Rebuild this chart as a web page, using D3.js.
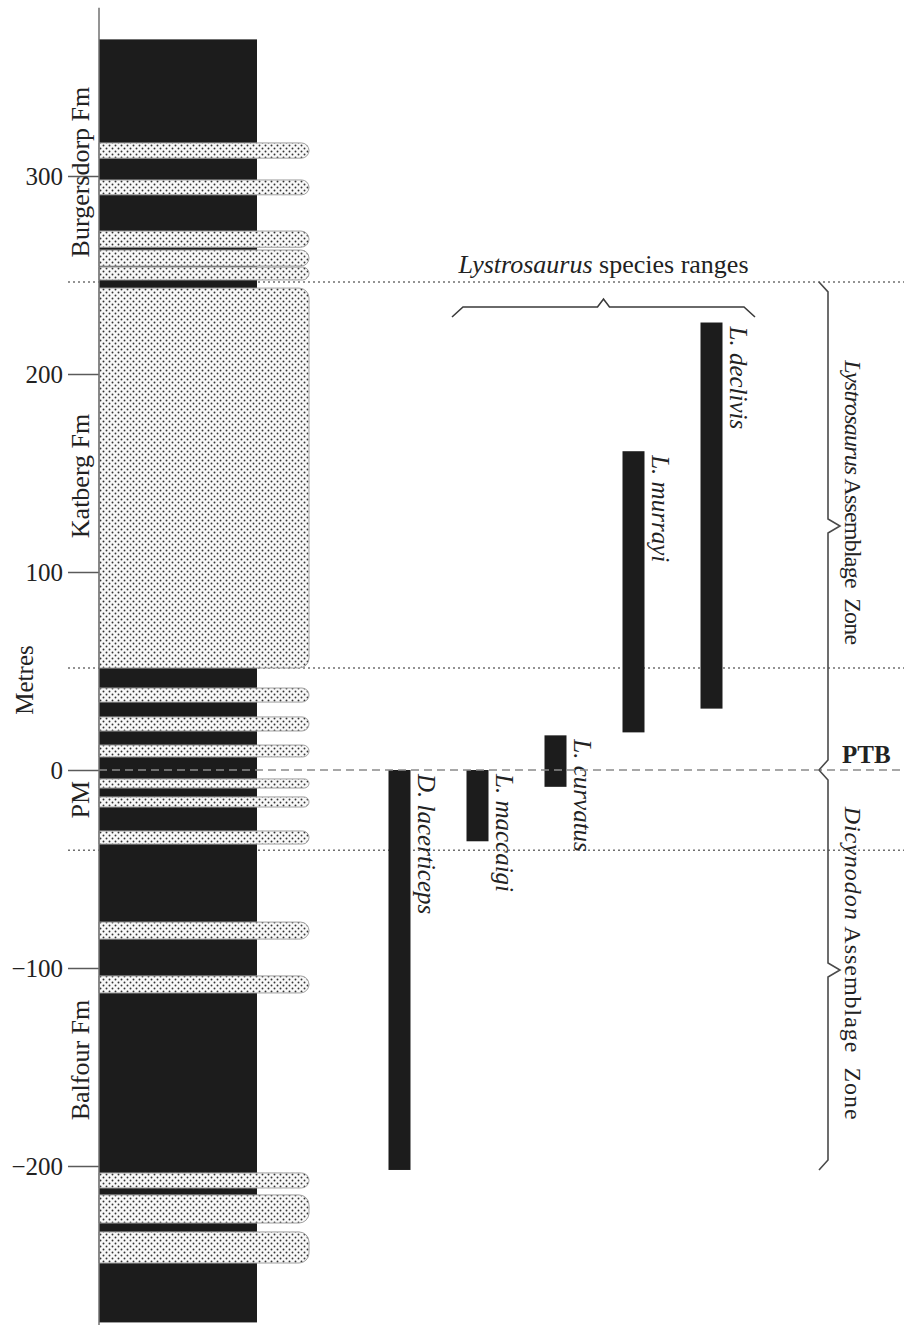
<!DOCTYPE html>
<html>
<head>
<meta charset="utf-8">
<script src="https://cdn.jsdelivr.net/npm/d3@7"></script>
<style>
  body { margin: 0; background: #fff; }
  svg { display: block; }
  text { font-family: 'Liberation Serif', 'Times New Roman', serif; fill: #222; }
</style>
</head>
<body>
<script>
// metres above / below the Permo-Triassic boundary
const columnTop = 369;
const columnBase = -279;
const axisExtent = [385, -285];
const tickValues = [300, 200, 100, 0, -100, -200];

// sandstone beds, base and top in metres
const sandBase = [309, 290.5, 264, 254.5, 247.5, 51.5, 34.3, 19.7, 6.6, -9.1, -18.7, -37.4, -85.4, -112.6, -211.1, -228.8, -249];
const sandTop = [316.7, 298, 272.2, 262.6, 254, 243.4, 41.4, 26.8, 12.6, -4.5, -13.6, -30.8, -76.8, -104, -203.5, -214.6, -233.3];

// formation boundaries (dotted) and the PTB (dashed)
const boundaries = [246.5, 51.5, -40.5];
const ptb = 0;

// formation labels and the height they sit at
const formations = ['Burgersdorp Fm', 'Katberg Fm', 'PM', 'Balfour Fm'];
const formationMid = [302, 148.5, -15, -146.5];

// species ranges
const species = ['D. lacerticeps', 'L. maccaigi', 'L. curvatus', 'L. murrayi', 'L. declivis'];
const speciesBase = [-202, -36, -8.5, 19, 31];
const speciesTop = [0, 0, 17.5, 161, 226];

// assemblage zones
const zones = ['Lystrosaurus', 'Dicynodon'];
const zoneTop = [246.5, 0];
const zoneBase = [0, -202];
const zoneLabelStart = [207, -18.5];
const zoneLabelLength = [285, 313];

const width = 904;
const height = 1325;
const colLeft = 99;
const colRight = 257;
const sandRight = 309;
const barWidth = 22;
const braceX = 828;

const svg = d3.select('body')
  .append('svg')
  .attr('width', width)
  .attr('height', height);

const y = d3.scaleLinear()
  .domain([300, -200])
  .range([176, 1166]);

const xs = d3.scalePoint()
  .domain(species)
  .range([399.5, 711.5]);

// dotted sandstone fill
const pat = svg.append('defs')
  .append('pattern')
  .attr('id', 'sand')
  .attr('patternUnits', 'userSpaceOnUse')
  .attr('width', 6)
  .attr('height', 6);
pat.append('rect').attr('width', 6).attr('height', 6).attr('fill', '#f8f8f8');
pat.append('circle').attr('cx', 1.5).attr('cy', 1.5).attr('r', 0.95).attr('fill', '#333');
pat.append('circle').attr('cx', 4.5).attr('cy', 4.5).attr('r', 0.95).attr('fill', '#333');

// formation boundaries
svg.selectAll('line.boundary')
  .data(boundaries)
  .enter()
  .append('line')
  .attr('class', 'boundary')
  .attr('x1', colLeft - 31)
  .attr('x2', width)
  .attr('y1', d => y(d))
  .attr('y2', d => y(d))
  .attr('stroke', '#707070')
  .attr('stroke-width', 1.5)
  .attr('stroke-dasharray', '2,3');

// mudstone column
svg.append('rect')
  .attr('x', colLeft)
  .attr('y', y(columnTop))
  .attr('width', colRight - colLeft)
  .attr('height', y(columnBase) - y(columnTop))
  .attr('fill', '#1c1c1c');

function bedPath(x0, x1, yt, yb) {
  const r = Math.min((yb - yt) / 2, 10);
  return `M${x0},${yt}H${x1 - r}A${r},${r} 0 0 1 ${x1},${yt + r}V${yb - r}A${r},${r} 0 0 1 ${x1 - r},${yb}H${x0}Z`;
}

svg.selectAll('path.bed')
  .data(d3.range(sandBase.length))
  .enter()
  .append('path')
  .attr('class', 'bed')
  .attr('d', i => bedPath(colLeft, sandRight, y(sandTop[i]), y(sandBase[i])))
  .attr('fill', 'url(#sand)')
  .attr('stroke', '#a0a0a0')
  .attr('stroke-width', 1);

// species range bars
svg.selectAll('rect.range')
  .data(species)
  .enter()
  .append('rect')
  .attr('class', 'range')
  .attr('x', d => xs(d) - barWidth / 2)
  .attr('width', barWidth)
  .attr('y', (d, i) => y(speciesTop[i]))
  .attr('height', (d, i) => y(speciesBase[i]) - y(speciesTop[i]))
  .attr('fill', '#1c1c1c');

svg.selectAll('text.species')
  .data(species)
  .enter()
  .append('text')
  .attr('class', 'species')
  .attr('transform', (d, i) => `translate(${xs(d) + barWidth / 2 + 7},${y(speciesTop[i]) + 4}) rotate(90)`)
  .attr('font-size', 25)
  .attr('font-style', 'italic')
  .text(d => d);

// PTB
svg.append('line')
  .attr('x1', colLeft)
  .attr('x2', width)
  .attr('y1', y(ptb))
  .attr('y2', y(ptb))
  .attr('stroke', '#8a8a8a')
  .attr('stroke-width', 1.6)
  .attr('stroke-dasharray', '8,5');

svg.append('text')
  .attr('x', 842)
  .attr('y', y(ptb) - 7)
  .attr('font-size', 25)
  .attr('font-weight', 'bold')
  .text('PTB');

// axis
const yAxis = d3.axisLeft(y)
  .tickValues(tickValues)
  .tickSize(31)
  .tickPadding(5)
  .tickSizeOuter(0);

const gAxis = svg.append('g')
  .attr('class', 'y axis')
  .attr('transform', `translate(${colLeft},0)`)
  .call(yAxis);

gAxis.select('.domain').remove();
gAxis.selectAll('line').attr('stroke', '#5a5a5a').attr('stroke-width', 1.5);
gAxis.selectAll('text').attr('font-size', 25);

svg.append('line')
  .attr('x1', colLeft)
  .attr('x2', colLeft)
  .attr('y1', y(axisExtent[0]))
  .attr('y2', y(axisExtent[1]))
  .attr('stroke', '#707070')
  .attr('stroke-width', 1.5);

svg.append('text')
  .attr('transform', `translate(33,680) rotate(-90)`)
  .attr('text-anchor', 'middle')
  .attr('font-size', 25)
  .text('Metres');

svg.selectAll('text.formation')
  .data(formations)
  .enter()
  .append('text')
  .attr('class', 'formation')
  .attr('transform', (d, i) => `translate(89,${y(formationMid[i])}) rotate(-90)`)
  .attr('text-anchor', 'middle')
  .attr('font-size', 26)
  .text(d => d);

// assemblage zone braces
function vBrace(x, y0, y1) {
  const m = (y0 + y1) / 2;
  return `M${x - 9},${y0}L${x},${y0 + 10}V${m - 7}L${x + 12},${m}L${x},${m + 7}V${y1 - 10}L${x - 9},${y1}`;
}

svg.selectAll('path.zone')
  .data(zones)
  .enter()
  .append('path')
  .attr('class', 'zone')
  .attr('d', (d, i) => vBrace(braceX, y(zoneTop[i]), y(zoneBase[i])))
  .attr('fill', 'none')
  .attr('stroke', '#4a4a4a')
  .attr('stroke-width', 1.6);

const zoneText = svg.selectAll('text.zone')
  .data(zones)
  .enter()
  .append('text')
  .attr('class', 'zone')
  .attr('transform', (d, i) => `translate(845,${y(zoneLabelStart[i])}) rotate(90)`)
  .attr('textLength', (d, i) => zoneLabelLength[i])
  .attr('font-size', 24);

zoneText.append('tspan').attr('font-style', 'italic').text(d => d);
zoneText.append('tspan').text(' Assemblage\u00a0 Zone');

// Lystrosaurus species brace
const hx0 = 452, hx1 = 755, hy = 307;
const hm = (hx0 + hx1) / 2;
svg.append('path')
  .attr('d', `M${hx0},${hy + 10}L${hx0 + 11},${hy}H${hm - 6}L${hm},${hy - 8}L${hm + 6},${hy}H${hx1 - 11}L${hx1},${hy + 10}`)
  .attr('fill', 'none')
  .attr('stroke', '#3a3a3a')
  .attr('stroke-width', 1.6);

const title = svg.append('text')
  .attr('x', hm)
  .attr('y', 273)
  .attr('text-anchor', 'middle')
  .attr('font-size', 26);

title.append('tspan').attr('font-style', 'italic').text('Lystrosaurus');
title.append('tspan').text(' species ranges');
</script>
</body>
</html>
